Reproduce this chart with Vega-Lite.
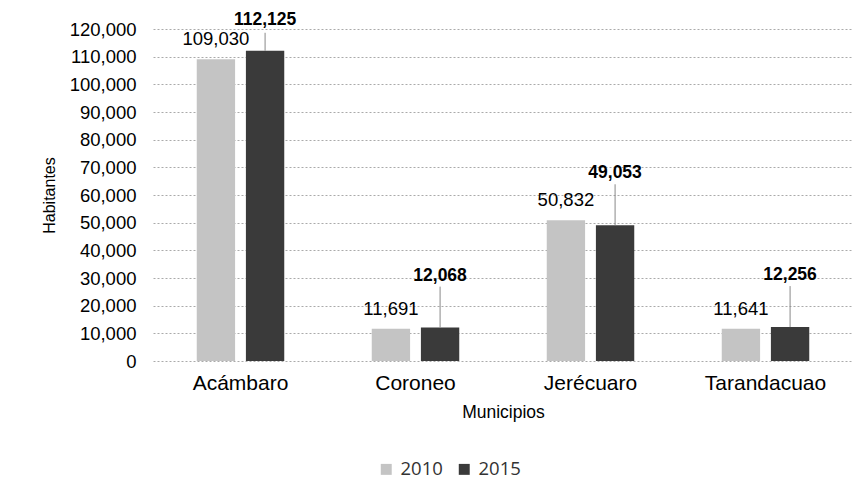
{
  "$schema": "https://vega.github.io/schema/vega-lite/v6.json",
  "autosize": "none",
  "width": 700,
  "height": 332,
  "padding": {"left": 153, "top": 29, "right": 11, "bottom": 142},
  "background": "white",
  "config": {
    "font": "Liberation Sans",
    "view": {"stroke": null}
  },
  "data": {
    "values": [
      {"municipio": "Acámbaro", "anio": "2010", "habitantes": 109030},
      {"municipio": "Acámbaro", "anio": "2015", "habitantes": 112125},
      {"municipio": "Coroneo", "anio": "2010", "habitantes": 11691},
      {"municipio": "Coroneo", "anio": "2015", "habitantes": 12068},
      {"municipio": "Jerécuaro", "anio": "2010", "habitantes": 50832},
      {"municipio": "Jerécuaro", "anio": "2015", "habitantes": 49053},
      {"municipio": "Tarandacuao", "anio": "2010", "habitantes": 11641},
      {"municipio": "Tarandacuao", "anio": "2015", "habitantes": 12256}
    ]
  },
  "encoding": {
    "x": {
      "field": "municipio", "type": "nominal", "sort": null,
      "scale": {"paddingInner": 0.5, "paddingOuter": 0.25},
      "axis": {
        "title": "Municipios", "titleFontSize": 17.5, "titleFontWeight": "normal", "titleColor": "#000",
        "titlePadding": 10, "labelFontSize": 21, "labelColor": "#000", "labelPadding": 11,
        "labelAngle": 0, "ticks": false, "domain": false
      }
    },
    "xOffset": {"field": "anio", "type": "nominal", "scale": {"paddingInner": 0.22}},
    "y": {
      "field": "habitantes", "type": "quantitative",
      "scale": {"domain": [0, 120000], "nice": false},
      "axis": {
        "title": "Habitantes", "titleFontSize": 16, "titleFontWeight": "normal", "titleColor": "#000",
        "titlePadding": 12, "labelFontSize": 18.5, "labelColor": "#000", "labelPadding": 17,
        "tickCount": 12, "format": ",d", "ticks": false, "domain": false,
        "grid": true, "gridColor": "#aaaaaa", "gridDash": [2, 2], "gridWidth": 1
      }
    }
  },
  "layer": [
    {
      "mark": {"type": "bar"},
      "encoding": {
        "color": {
          "field": "anio", "type": "nominal",
          "scale": {"domain": ["2010", "2015"], "range": ["#c4c4c4", "#3a3a3a"]},
          "legend": {
            "title": null, "orient": "none", "direction": "horizontal",
            "legendX": 224, "legendY": 431,
            "symbolType": "square", "symbolSize": 120, "symbolStrokeWidth": 0,
            "labelFontSize": 18.5, "labelColor": "#333", "labelFont": "Open Sans",
            "columnPadding": 12, "labelOffset": 5
          }
        }
      }
    },
    {
      "transform": [{"filter": "datum.anio === '2010'"}],
      "mark": {"type": "text", "fontSize": 18.5, "baseline": "middle", "dy": -20, "color": "#000"},
      "encoding": {"text": {"field": "habitantes", "type": "quantitative", "format": ",d"}}
    },
    {
      "transform": [{"filter": "datum.anio === '2015' && datum.municipio !== 'Acámbaro'"}],
      "mark": {"type": "rule", "color": "#888888", "strokeWidth": 1, "y2Offset": -41},
      "encoding": {"y2": {"field": "habitantes"}}
    },
    {
      "transform": [{"filter": "datum.anio === '2015' && datum.municipio === 'Acámbaro'"}],
      "mark": {"type": "rule", "color": "#888888", "strokeWidth": 1, "y2Offset": -18},
      "encoding": {"y2": {"field": "habitantes"}}
    },
    {
      "transform": [{"filter": "datum.anio === '2015' && datum.municipio !== 'Acámbaro'"}],
      "mark": {"type": "text", "fontSize": 17.5, "fontWeight": "bold", "baseline": "middle", "dy": -52, "color": "#000"},
      "encoding": {"text": {"field": "habitantes", "type": "quantitative", "format": ",d"}}
    },
    {
      "transform": [{"filter": "datum.anio === '2015' && datum.municipio === 'Acámbaro'"}],
      "mark": {"type": "text", "fontSize": 17.5, "fontWeight": "bold", "baseline": "middle", "dy": -31, "color": "#000"},
      "encoding": {"text": {"field": "habitantes", "type": "quantitative", "format": ",d"}}
    }
  ]
}
